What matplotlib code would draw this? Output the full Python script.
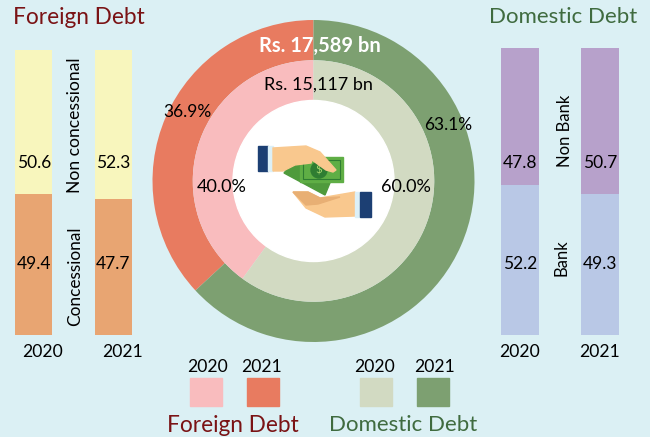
import matplotlib
matplotlib.use('Agg')
import matplotlib.pyplot as plt
from matplotlib.patches import Polygon, Rectangle, Circle

plt.rcParams['font.family'] = ['Lato', 'DejaVu Sans']

W, H = 650, 437
BG = '#dbf0f4'

# values
years = ['2020', '2021']
concessional = [49.4, 47.7]
non_concessional = [50.6, 52.3]
bank = [52.2, 49.3]
non_bank = [47.8, 50.7]
share_2020 = [40.0, 60.0]
share_2021 = [36.9, 63.1]
total_2020 = 'Rs. 15,117 bn'
total_2021 = 'Rs. 17,589 bn'

RED = '#7a1315'
GREEN = '#3f6b3f'


def px_axes(x0, y0, x1, y1, **kw):
    # axes from pixel box, y counted from the top
    return fig.add_axes([x0 / W, 1 - y1 / H, (x1 - x0) / W, (y1 - y0) / H], **kw)


def stacked(x0, x1, y0, y1, low, high, c_low, c_high):
    ax = px_axes(x0, y0, x1, y1)
    ax.bar([0], [low], width=1, color=c_low)
    ax.bar([0], [high], bottom=[low], width=1, color=c_high)
    ax.set_xlim(-0.5, 0.5)
    ax.set_ylim(0, low + high)
    ax.axis('off')


fig = plt.figure(figsize=(W / 100, H / 100), dpi=100, facecolor=BG)

stacked(15, 52, 50, 335, concessional[0], non_concessional[0], '#e8a572', '#f8f6bd')
stacked(95, 132, 50, 335, concessional[1], non_concessional[1], '#e8a572', '#f8f6bd')
stacked(501, 539, 48, 335, bank[0], non_bank[0], '#b9c8e6', '#b7a1cb')
stacked(581, 619, 48, 335, bank[1], non_bank[1], '#b9c8e6', '#b7a1cb')

# donut: outer ring 2021, inner ring 2020
cx, cy, R = 313.5, 181, 161
pie = px_axes(cx - R, cy - R, cx + R, cy + R)
pie.pie(share_2021, radius=1, startangle=90, colors=['#e87b60', '#7da071'],
        wedgeprops=dict(width=0.25))
pie.pie(share_2020, radius=0.75, startangle=90, colors=['#f9bcbe', '#d2dac2'],
        wedgeprops=dict(width=0.25))
pie.add_patch(Circle((0, 0), 0.5, color='white', zorder=3))
pie.set_xlim(-1, 1)
pie.set_ylim(-1, 1)

# overlay in pixel coordinates for text, legend and the icon
ov = px_axes(0, 0, W, H)
ov.set_xlim(0, W)
ov.set_ylim(H, 0)
ov.axis('off')
ov.patch.set_alpha(0)

ov.text(13, 18, 'Foreign Debt', color=RED, fontsize=16.3, ha='left', va='center')
ov.text(637, 17, 'Domestic Debt', color=GREEN, fontsize=16, ha='right', va='center')
ov.text(75, 125, 'Non concessional', rotation=90, fontsize=12.6, ha='center', va='center')
ov.text(75, 276, 'Concessional', rotation=90, fontsize=12.4, ha='center', va='center')
ov.text(565, 131, 'Non Bank', rotation=90, fontsize=12, ha='center', va='center')
ov.text(561, 258, 'Bank', rotation=90, fontsize=12, ha='center', va='center')

# bar labels
for x, low, high in zip([34, 113, 520, 600],
                        [concessional[0], concessional[1], bank[0], bank[1]],
                        [non_concessional[0], non_concessional[1], non_bank[0], non_bank[1]]):
    ov.text(x, 163, f'{high}', fontsize=12.5, ha='center', va='center')
    ov.text(x, 264, f'{low}', fontsize=12.5, ha='center', va='center')

for x, lab in zip([43, 123, 520, 600], years * 2):
    ov.text(x, 352, lab, fontsize=12.6, ha='center', va='center')

ov.text(320, 46, total_2021, color='white', fontsize=14.5, fontweight='bold', ha='center', va='center')
ov.text(318, 85, total_2020, color='black', fontsize=13, ha='center', va='center')
ov.text(187, 112, f'{share_2021[0]}%', fontsize=12.5, ha='center', va='center')
ov.text(448, 125, f'{share_2021[1]}%', fontsize=12.5, ha='center', va='center')
ov.text(222, 187, f'{share_2020[0]}%', fontsize=13, ha='center', va='center')
ov.text(406, 187, f'{share_2020[1]}%', fontsize=13, ha='center', va='center')

# legend
for x, c in zip([190, 247, 360, 417], ['#f9bcbe', '#e87b60', '#d2dac2', '#7da071']):
    ov.add_patch(Rectangle((x, 378), 32, 28, color=c))
for x, lab in zip([207.5, 262, 375, 435], years * 2):
    ov.text(x, 367, lab, fontsize=12.6, ha='center', va='center')
ov.text(233, 425, 'Foreign Debt', color=RED, fontsize=16.3, ha='center', va='center')
ov.text(403, 425, 'Domestic Debt', color=GREEN, fontsize=16, ha='center', va='center')

# money icon
ov.add_patch(Polygon([(284, 173), (297, 157), (332, 178), (325, 195)], color='#4f9a3c', zorder=4))
ov.add_patch(Rectangle((300, 157), 43, 25, color='#5fae45', zorder=5))
ov.add_patch(Rectangle((303, 160), 37, 19, fill=False, ec='#2f7d32', lw=0.8, zorder=6))
ov.add_patch(Circle((319, 170), 8, color='#2f7d32', zorder=6))
ov.text(319, 170, '$', color='#a5d66f', fontsize=8, ha='center', va='center', zorder=7)
# top hand
ov.add_patch(Rectangle((258, 146), 10, 25, color='#1c3f73', zorder=6))
ov.add_patch(Rectangle((268, 146), 5, 25, color='#dcf0f8', zorder=6))
ov.add_patch(Polygon([(273, 148), (306, 146), (320, 152), (336, 170), (333, 172), (326, 170),
                      (312, 160), (311, 163), (295, 165), (283, 171), (273, 171)],
                     color='#f9c88e', zorder=7))
# bottom hand
ov.add_patch(Polygon([(293, 192), (308, 192), (320, 198), (355, 192), (355, 216), (325, 217),
                      (306, 208)], color='#f9c88e', zorder=7))
ov.add_patch(Polygon([(293, 192), (308, 192), (320, 198), (340, 197), (318, 204), (306, 205)],
                     color='#e8af74', zorder=8))
ov.add_patch(Rectangle((355, 192), 5, 25, color='#dcf0f8', zorder=7))
ov.add_patch(Rectangle((360, 192), 11, 25, color='#1c3f73', zorder=7))

fig.savefig('out.png', dpi=100, facecolor=BG)
